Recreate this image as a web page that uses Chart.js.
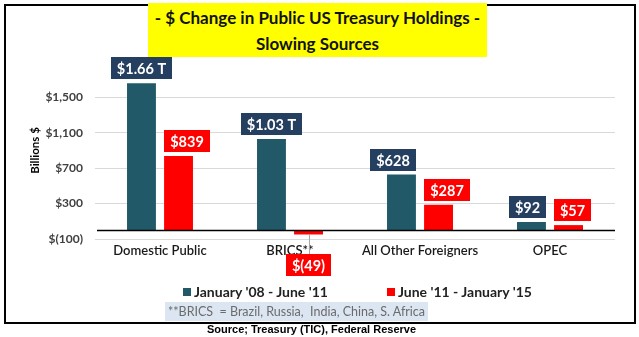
<!DOCTYPE html>
<html>
<head>
<meta charset="utf-8">
<script src="https://cdn.jsdelivr.net/npm/chart.js@4.4.1/dist/chart.umd.min.js"></script>
<style>
  html, body { margin:0; padding:0; background:#fff; }
  #wrap { position:relative; width:639px; height:337px; overflow:hidden; font-family:Lato, "Open Sans", sans-serif; }
  #frame { position:absolute; left:4px; top:4px; width:628px; height:316px; border:2px solid #000; box-sizing:content-box; }
  #title { position:absolute; left:148px; top:3px; width:339px; height:54px; background:#ffff00; text-align:center;
           font-weight:bold; font-size:17px; line-height:26px; color:#111; padding-top:2px; box-sizing:border-box; }
  canvas { position:absolute; left:0; top:0; }
  #legend { position:absolute; top:283px; left:0; width:639px; height:20px; font-weight:bold; font-size:14px; color:#222; }
  .li { position:absolute; top:0; white-space:nowrap; }
  .sw { display:inline-block; width:8px; height:8px; margin-right:3px; vertical-align:1px; }
  #note { position:absolute; left:165px; top:302px; width:263px; height:19px; background:#dce6f2; color:#6b6b6b;
          font-size:12.5px; line-height:19px; text-align:center; white-space:nowrap; }
  #source { position:absolute; left:0; top:323px; width:623px; text-align:center; font-family:"Liberation Sans", Arial, sans-serif;
            font-weight:bold; font-size:11px; color:#000; }
</style>
</head>
<body>
<div id="wrap">
  <div id="frame"></div>
  <canvas id="c" width="639" height="337"></canvas>
  <div id="title">- $ Change in Public US Treasury Holdings -<br>Slowing Sources</div>
  <div id="legend"></div>
  <div id="note">**BRICS&nbsp; = Brazil, Russia,&nbsp; India, China, S. Africa</div>
  <div id="source">Source; Treasury (TIC), Federal Reserve</div>
</div>
<script>
const categories = ["Domestic Public", "BRICS**", "All Other Foreigners", "OPEC"];
const seriesNames = ["January '08 - June '11", "June '11 - January '15"];
const series1 = [1660, 1030, 628, 92];
const series2 = [839, -49, 287, 57];
const tickValues = [-100, 300, 700, 1100, 1500];

const barColors = ["#215968", "#ff0000"];
const labelColors = ["#243f60", "#ff0000"];
const labelAlign = [["center", "center", "right", "right"], ["left", "center", "left", "left"]];

function fmt(v) {
  if (v >= 1000) return "$" + (v / 1000).toFixed(2) + " T";
  if (v < 0) return "$(" + Math.abs(v) + ")";
  return "$" + v;
}
function fmtTick(v) {
  if (v < 0) return "$(" + Math.abs(v) + ")";
  return "$" + v.toLocaleString("en-US");
}

const labelPlugin = {
  id: "boxLabels",
  afterDatasetsDraw(chart) {
    const ctx = chart.ctx;
    const y = chart.scales.y;
    const area = chart.chartArea;
    const y0 = Math.round(y.getPixelForValue(0)) + 0.5;
    ctx.save();
    ctx.strokeStyle = "#000";
    ctx.lineWidth = 1.5;
    ctx.beginPath();
    ctx.moveTo(area.left + 2, y0);
    ctx.lineTo(area.right, y0);
    ctx.stroke();

    ctx.font = "bold 14.5px Lato, 'Open Sans', sans-serif";
    ctx.textAlign = "center";
    ctx.textBaseline = "middle";
    chart.data.datasets.forEach((ds, di) => {
      const meta = chart.getDatasetMeta(di);
      meta.data.forEach((bar, i) => {
        const v = ds.data[i];
        const text = fmt(v);
        const tw = ctx.measureText(text).width;
        const bw = tw + 12, bh = 22;
        const half = bar.width / 2;
        let bx;
        const al = labelAlign[di][i];
        if (al === "left") bx = bar.x - half;
        else if (al === "right") bx = bar.x + half - bw;
        else bx = bar.x - bw / 2;
        let by;
        if (v >= 0) {
          by = bar.y - 4 - bh;
        } else {
          by = bar.y + 20;
          ctx.strokeStyle = "#a6a6a6";
          ctx.lineWidth = 1;
          ctx.beginPath();
          ctx.moveTo(Math.round(bar.x) + 0.5, bar.y);
          ctx.lineTo(Math.round(bar.x) + 0.5, by);
          ctx.stroke();
        }
        ctx.fillStyle = labelColors[di];
        ctx.fillRect(Math.round(bx), Math.round(by), Math.round(bw), bh);
        ctx.fillStyle = "#fff";
        ctx.fillText(text, Math.round(bx) + Math.round(bw) / 2, Math.round(by) + bh / 2 + 1);
      });
    });
    ctx.restore();
  }
};

const chart = new Chart(document.getElementById("c"), {
  type: "bar",
  data: {
    labels: categories,
    datasets: [
      { label: seriesNames[0], data: series1, backgroundColor: barColors[0], categoryPercentage: 0.57, barPercentage: 0.78 },
      { label: seriesNames[1], data: series2, backgroundColor: barColors[1], categoryPercentage: 0.57, barPercentage: 0.78 }
    ]
  },
  options: {
    responsive: false,
    animation: false,
    devicePixelRatio: 1,
    layout: { padding: { top: 62, right: 24, bottom: 0, left: 0 } },
    plugins: { legend: { display: false }, title: { display: false }, tooltip: { enabled: false } },
    scales: {
      x: {
        grid: { display: false, drawTicks: false },
        border: { display: false },
        ticks: { padding: 4, color: "#1a1a1a", font: { family: "Lato, 'Open Sans', sans-serif", size: 13, weight: "600" } },
        afterFit(s) { s.height = 98; }
      },
      y: {
        min: -100, max: 1900,
        afterBuildTicks(s) { s.ticks = tickValues.map(v => ({ value: v })); },
        grid: { color: "#d9d9d9", lineWidth: 1, drawTicks: false },
        border: { display: false },
        ticks: { padding: 12, color: "#404040", font: { family: "Lato, 'Open Sans', sans-serif", size: 12, weight: "bold" },
                 callback: v => fmtTick(v) },
        title: { display: true, text: "Billions $", color: "#000", padding: { top: 28, bottom: 0 },
                 font: { family: "Lato, 'Open Sans', sans-serif", size: 11.5, weight: "bold" } },
        afterFit(s) { s.width = 95; }
      }
    }
  },
  plugins: [labelPlugin]
});

const legend = document.getElementById("legend");
const legendX = [183, 387];
chart.data.datasets.forEach((ds, i) => {
  const d = document.createElement("div");
  d.className = "li";
  d.style.left = legendX[i] + "px";
  const sw = document.createElement("span");
  sw.className = "sw";
  sw.style.background = ds.backgroundColor;
  d.appendChild(sw);
  d.appendChild(document.createTextNode(ds.label));
  legend.appendChild(d);
});
</script>
</body>
</html>
